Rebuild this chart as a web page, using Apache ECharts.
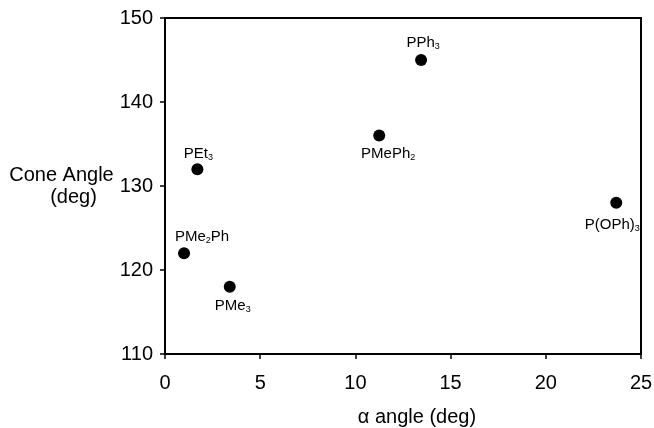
<!DOCTYPE html>
<html>
<head>
<meta charset="utf-8">
<script src="https://cdn.jsdelivr.net/npm/echarts@6/dist/echarts.min.js"></script>
<style>
  html, body { margin: 0; padding: 0; background: #fff; }
  #chart { width: 654px; height: 428px; }
</style>
</head>
<body>
<div id="chart"></div>
<script>
// ligand data: alpha angle (deg) vs cone angle (deg)
const ligands = ['PEt3', 'PPh3', 'PMePh2', 'P(OPh)3', 'PMe2Ph', 'PMe3'];
const alphaAngle = [1.7, 13.45, 11.25, 23.7, 1.0, 3.4];
const coneAngle = [132, 145, 136, 128, 122, 118];
// rich text versions of the names (subscripts)
const ligandLabels = ['PEt{s|3}', 'PPh{s|3}', 'PMePh{s|2}', 'P(OPh){s|3}', 'PMe{s|2}Ph', 'PMe{s|3}'];

const FONT = '"Liberation Sans", Arial, sans-serif';

// where each label sits relative to its dot
const labelPlace = {
    'PEt3':    { position: 'top', distance: 1, offset: [1, 0] },
    'PPh3':    { position: 'top', distance: 3, offset: [2, 0] },
    'PMePh2':  { position: 'bottom', distance: 4, offset: [9, 0] },
    'P(OPh)3': { position: 'bottom', distance: 8, offset: [-4, 0] },
    'PMe2Ph':  { position: 'top', distance: 2, offset: [18, 0] },
    'PMe3':    { position: 'bottom', distance: 5, offset: [3, 0] }
};

const points = ligands.map(function (name, i) {
    const p = labelPlace[name];
    return {
        name: name,
        value: [alphaAngle[i], coneAngle[i]],
        label: {
            show: true,
            position: p.position,
            distance: p.distance,
            offset: p.offset,
            formatter: ligandLabels[i]
        }
    };
});

const chart = echarts.init(document.getElementById('chart'), null, { renderer: 'canvas' });

const option = {
    backgroundColor: '#fff',
    animation: false,
    textStyle: { fontFamily: FONT },
    grid: {
        left: 165, right: 13, top: 18, bottom: 74,
        outerBoundsMode: 'none',
        containLabel: false,
        show: true, borderColor: '#000', borderWidth: 2, backgroundColor: 'transparent'
    },
    xAxis: {
        type: 'value',
        min: 0, max: 25, interval: 5,
        name: 'α angle (deg)',
        nameLocation: 'middle',
        nameGap: 53,
        nameTextStyle: { fontFamily: FONT, fontSize: 20, color: '#000', padding: [0, 0, 0, 28] },
        axisLine: { show: true, onZero: false, lineStyle: { color: '#000', width: 2 } },
        axisTick: { show: true, inside: false, length: 5, lineStyle: { color: '#000', width: 1.5 } },
        axisLabel: { fontFamily: FONT, fontSize: 20, color: '#000', margin: 19 },
        splitLine: { show: false }
    },
    yAxis: {
        type: 'value',
        min: 110, max: 150, interval: 10,
        name: '{a|Cone Angle}\n{b|(deg)}',
        nameLocation: 'middle',
        nameRotate: 0,
        nameGap: 102,
        nameTextStyle: {
            fontFamily: FONT, fontSize: 20, color: '#000', align: 'center', lineHeight: 22,
            rich: {
                a: { fontFamily: FONT, fontSize: 20, color: '#000', lineHeight: 22 },
                b: { fontFamily: FONT, fontSize: 20, color: '#000', lineHeight: 22, padding: [0, 0, 0, 24] }
            }
        },
        axisLine: { show: true, onZero: false, lineStyle: { color: '#000', width: 2 } },
        axisTick: { show: true, inside: false, length: 5, lineStyle: { color: '#000', width: 1.5 } },
        axisLabel: { fontFamily: FONT, fontSize: 20, color: '#000', margin: 12 },
        splitLine: { show: false }
    },
    series: [{
        type: 'scatter',
        symbol: 'circle',
        symbolSize: 12,
        itemStyle: { color: '#000', opacity: 1 },
        label: {
            color: '#000',
            fontFamily: FONT,
            fontSize: 15,
            lineHeight: 16,
            rich: {
                s: { fontSize: 9, lineHeight: 16, verticalAlign: 'bottom', fontFamily: FONT, color: '#000', padding: [6, 0, 0, 0] }
            }
        },
        data: points
    }]
};

chart.setOption(option);
</script>
</body>
</html>
